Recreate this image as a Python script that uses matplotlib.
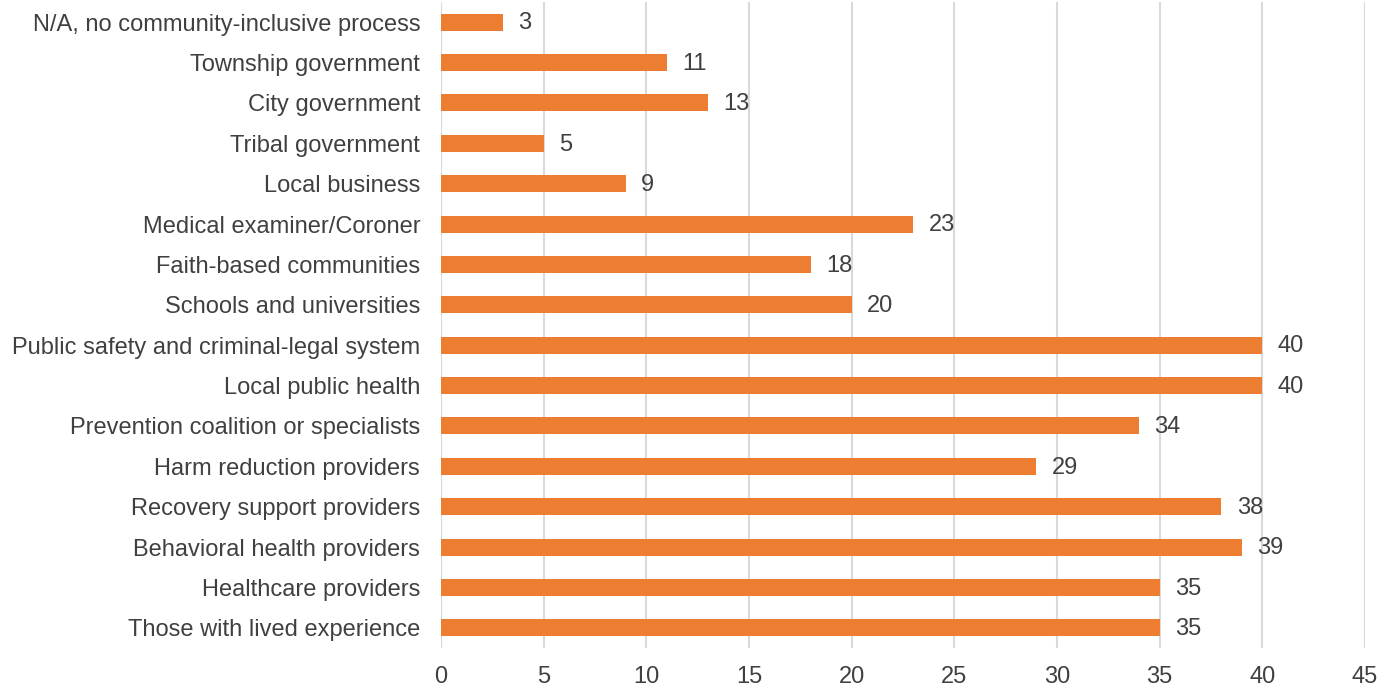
import matplotlib
matplotlib.use("Agg")
import matplotlib.pyplot as plt

# categories listed bottom to top
categories = [
    "Those with lived experience",
    "Healthcare providers",
    "Behavioral health providers",
    "Recovery support providers",
    "Harm reduction providers",
    "Prevention coalition or specialists",
    "Local public health",
    "Public safety and criminal-legal system",
    "Schools and universities",
    "Faith-based communities",
    "Medical examiner/Coroner",
    "Local business",
    "Tribal government",
    "City government",
    "Township government",
    "N/A, no community-inclusive process",
]
counts = [35, 35, 39, 38, 29, 34, 40, 40, 20, 18, 23, 9, 5, 13, 11, 3]
x_ticks = [0, 5, 10, 15, 20, 25, 30, 35, 40, 45]

BAR_COLOR = "#ED7D31"
TEXT_COLOR = "#404040"
GRID_COLOR = "#D9D9D9"

plt.rcParams["font.family"] = ["Liberation Sans", "DejaVu Sans"]

fig = plt.figure(figsize=(13.93, 6.94), dpi=100)
ax = fig.add_axes([441 / 1393, 1 - 648 / 694, (1365 - 441) / 1393, 646 / 694])

y = range(len(categories))
ax.barh(y, counts, height=0.42, color=BAR_COLOR, zorder=3)

for yi, v in zip(y, counts):
    ax.text(v + 0.75, yi - 0.03, str(v), va="center", ha="left",
            fontsize=17, color=TEXT_COLOR)

ax.set_xlim(0, 45)
ax.set_ylim(-0.5, len(categories) - 0.5)
ax.set_xticks(x_ticks)
ax.set_yticks(list(y))
ax.set_yticklabels(categories)

ax.grid(axis="x", color=GRID_COLOR, linewidth=1.5, zorder=0)
ax.yaxis.grid(False)
for s in ax.spines.values():
    s.set_visible(False)
ax.axvline(0, color=GRID_COLOR, linewidth=1.5, zorder=2)

ax.tick_params(axis="both", length=0, labelsize=17, labelcolor=TEXT_COLOR)
ax.tick_params(axis="x", pad=13)
ax.tick_params(axis="y", pad=15)

fig.savefig("out.png", dpi=100)
